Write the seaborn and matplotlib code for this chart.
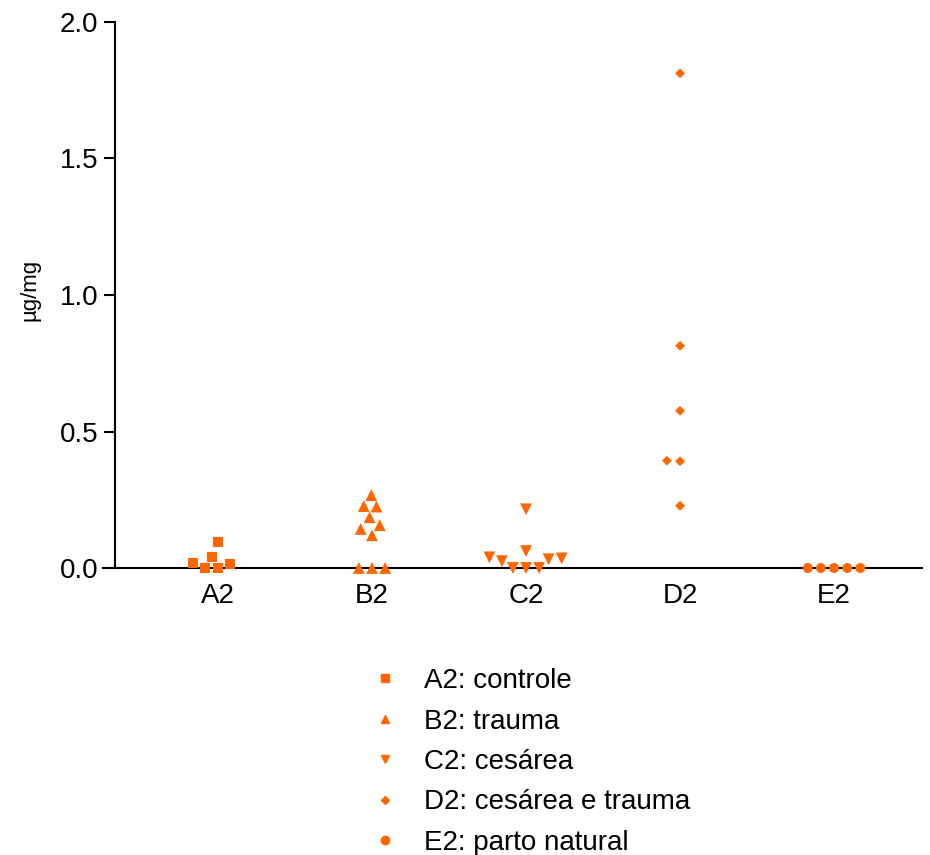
import numpy as np
import pandas as pd
import matplotlib
matplotlib.use("Agg")
import matplotlib.pyplot as plt
from matplotlib.lines import Line2D
import seaborn as sns

# values (ug/mg)
groups = ["A2", "B2", "C2", "D2", "E2"]
legend_labels = ["A2: controle", "B2: trauma", "C2: cesárea",
                 "D2: cesárea e trauma", "E2: parto natural"]
a2 = [0.041, 0.015, 0.096, 0.0, 0.0, 0.018]
b2 = [0.267, 0.227, 0.225, 0.186, 0.157, 0.143, 0.120, 0.0, 0.0, 0.0]
c2 = [0.215, 0.039, 0.032, 0.062, 0.0, 0.0, 0.0, 0.025, 0.035]
d2 = [1.812, 0.814, 0.576, 0.393, 0.391, 0.228]
e2 = [0.0, 0.0, 0.0, 0.0, 0.0]
yticks = [0.0, 0.5, 1.0, 1.5, 2.0]

orange = "#FF6600"
# marker, drawn size, extra (invisible) edge so the swarm spacing is equal
markers = {"A2": ("s", 7.2, 1.8), "B2": ("^", 8.5, 0.5), "C2": ("v", 8.5, 0.5),
           "D2": ("D", 5, 4), "E2": ("o", 7.2, 1.8)}

sns.set_style("ticks")
plt.rcParams["font.family"] = ["Liberation Sans", "DejaVu Sans"]
plt.rcParams["text.color"] = "black"
plt.rcParams["axes.labelcolor"] = "black"
plt.rcParams["xtick.color"] = "black"
plt.rcParams["ytick.color"] = "black"

fig = plt.figure(figsize=(9.3, 8.55), dpi=100)
ax = fig.add_axes([103 / 930, 1 - 568 / 855, 819 / 930, 546 / 855])

for g, vals in zip(groups, [a2, b2, c2, d2, e2]):
    df = pd.DataFrame({"group": g, "value": vals})
    m, s, lw = markers[g]
    sns.swarmplot(data=df, x="group", y="value", order=groups, ax=ax,
                  marker=m, size=s, linewidth=lw, edgecolor="none",
                  color=orange, zorder=3)

# let the points sitting on zero cover the axis line
for coll in ax.collections:
    if len(coll.get_offsets()) > 0:
        coll.set_clip_on(False)

ax.set_xlim(-0.747, 4.571)
ax.set_ylim(0, 2.0)
ax.set_yticks(yticks)
ax.set_yticklabels([f"{t:.1f}" for t in yticks])
ax.set_xlabel("")
ax.set_ylabel("µg/mg", fontsize=16)
ax.yaxis.set_label_coords((40 - 103) / 819, (568 - 290) / 546)

sns.despine(ax=ax)
ax.spines["left"].set_position(("axes", 12 / 819))
for sp in ["left", "bottom"]:
    ax.spines[sp].set_linewidth(1.5)
    ax.spines[sp].set_color("black")
ax.tick_params(axis="y", length=8, width=1.5, labelsize=20, pad=4)
ax.tick_params(axis="x", length=0, labelsize=20, pad=11)

handles = [Line2D([], [], ls="none", marker=markers[g][0], color=orange,
                  markersize=6 if g != "D2" else 4.5)
           for g in groups]
fig.legend(handles, legend_labels, loc="upper left",
           bbox_to_anchor=(360 / 930, 1 - 657 / 855), frameon=False,
           fontsize=20, handlelength=1.0, handletextpad=0.9,
           labelspacing=0.52, borderaxespad=0)

fig.savefig("out.png", dpi=100)
